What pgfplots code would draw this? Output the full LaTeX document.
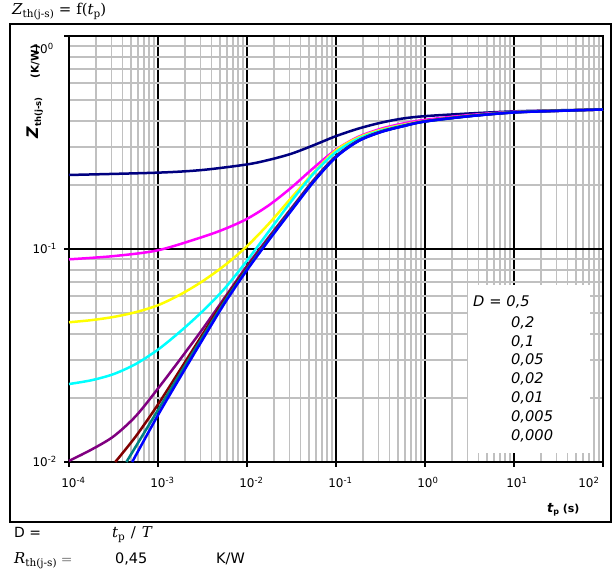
\documentclass[border=0pt]{standalone}
\usepackage[no-math]{fontspec}
\setmainfont{DejaVu Sans}
\newfontfamily\serifx{DejaVu Serif}
\usepackage{pgfplots}
\pgfplotsset{compat=1.18}

\definecolor{dNavy}{RGB}{0,0,128}
\definecolor{dMagenta}{RGB}{255,0,255}
\definecolor{dYellow}{RGB}{255,255,0}
\definecolor{dCyan}{RGB}{0,255,255}
\definecolor{dPurple}{RGB}{128,0,128}
\definecolor{dMaroon}{RGB}{128,0,0}
\definecolor{dTeal}{RGB}{0,128,128}
\definecolor{dBlue}{RGB}{0,0,255}
\definecolor{gridgray}{RGB}{192,192,192}

% "10" with a small raised exponent that takes no width
\newcommand{\tlab}[1]{10\rlap{\raisebox{4bp}{\fontsize{8.5}{9}\selectfont #1}}}
% lowered subscript in the serif face
\newcommand{\ssub}[1]{\raisebox{-3bp}{\fontsize{10.5}{12}\selectfont #1}}

\begin{document}
\begin{tikzpicture}
\begin{axis}[
    scale only axis,
    width=534bp, height=426bp,
    xmode=log, ymode=log,
    xmin=1e-4, xmax=1e2,
    ymin=1e-2, ymax=1,
    clip=false,
    axis line style={black, line width=2.2bp},
    grid=both,
    major grid style={black, line width=2bp},
    minor grid style={gridgray, line width=1.8bp},
    tick align=outside,
    tick pos=left,
    major tick length=5bp,
    minor tick length=0pt,
    tick style={black, line width=2bp},
    ticklabel style={font=\fontsize{12}{14}\selectfont, inner sep=0pt},
    xticklabel style={anchor=north, yshift=-10bp},
    yticklabel style={anchor=east, xshift=-16bp},
    xticklabel={\pgfmathtruncatemacro\ex{round(\tick/ln(10))}%
      \ifnum\ex=2 \rlap{\hspace*{-17bp}\tlab{\ex}}\hphantom{10}\else\tlab{\ex}\fi},
    yticklabel={\pgfmathtruncatemacro\ex{round(\tick/ln(10))}%
      \ifnum\ex=0 \raisebox{-17.4bp}[0pt][0pt]{\tlab{\ex}}\else\raisebox{-4.4bp}[0pt][0pt]{\tlab{\ex}}\fi},
    title={\serifx\fontsize{15}{17}\selectfont\itshape Z\upshape\ssub{th(j-s)}\hspace{5bp}=\hspace{5bp}f(\itshape t\upshape\ssub{p})},
    title style={at={(axis description cs:-0.1067,1.0376)}, anchor=base west, inner sep=0pt},
    xlabel={\bfseries\fontsize{13}{15}\selectfont\itshape t\upshape\raisebox{-2.5bp}{\fontsize{8}{9}\selectfont p}\fontsize{11}{13}\selectfont\ (s)},
    xlabel style={at={(axis description cs:0.8951,-0.1174)}, anchor=base west, inner sep=0pt},
    ylabel={\bfseries\fontsize{16}{18}\selectfont\itshape Z\upshape\raisebox{-2.5bp}{\fontsize{8.5}{9}\selectfont th(j-s)}\hspace{19bp}\fontsize{10.5}{12}\selectfont(K/W)},
    ylabel style={at={(axis description cs:-0.0637,0.9789)}, anchor=east, inner sep=0pt},
    every axis plot/.append style={line width=2.5bp, smooth, no markers},
]
% D = 0.5
\addplot[dNavy] coordinates {
  (1e-4,0.2226) (1e-3,0.2283) (3.162e-3,0.2350) (1e-2,0.2495) (1.778e-2,0.2623)
  (3.162e-2,0.2802) (5.623e-2,0.3072) (0.1,0.3388) (0.1778,0.3673) (0.3162,0.3913)
  (0.5623,0.4098) (1,0.4205) (3.162,0.4328) (10,0.4428) (31.62,0.4479) (100,0.4520)
};
% D = 0.2
\addplot[dMagenta] coordinates {
  (1e-4,0.08944) (3.162e-4,0.09260) (1e-3,0.09863) (3.162e-3,0.1139) (5.623e-3,0.1242)
  (1e-2,0.1385) (1.778e-2,0.1609) (3.162e-2,0.1945) (5.623e-2,0.2407) (0.1,0.2927)
  (0.1778,0.3361) (0.3162,0.3664) (0.5623,0.3882) (1,0.4041) (3.162,0.4256)
  (10,0.4406) (31.62,0.4457) (100,0.4519)
};
% D = 0.1
\addplot[dYellow] coordinates {
  (1e-4,0.04529) (1.778e-4,0.04634) (3.162e-4,0.04797) (5.623e-4,0.05052) (1e-3,0.05445)
  (1.778e-3,0.06109) (3.162e-3,0.07055) (5.623e-3,0.08385) (1e-2,0.1031) (1.778e-2,0.1321)
  (3.162e-2,0.1742) (5.623e-2,0.2283) (0.1,0.2907) (0.1778,0.3334) (0.3162,0.3622)
  (0.5623,0.3828) (1,0.3990) (3.162,0.4220) (10,0.4390) (31.62,0.4461) (100,0.4519)
};
% D = 0.05
\addplot[dCyan] coordinates {
  (1e-4,0.02323) (1.778e-4,0.02419) (3.162e-4,0.02585) (5.623e-4,0.02884) (1e-3,0.03370)
  (1.778e-3,0.04098) (3.162e-3,0.05099) (5.623e-3,0.06531) (1e-2,0.08810) (1.778e-2,0.1216)
  (3.162e-2,0.1679) (5.623e-2,0.2265) (0.1,0.2851) (0.1778,0.3293) (0.3162,0.3589)
  (0.5623,0.3802) (1,0.3972) (3.162,0.4210) (10,0.4385) (31.62,0.4458) (100,0.4519)
};
% D = 0.02
\addplot[dPurple] coordinates {
  (1e-4,0.01012) (1.778e-4,0.01142) (3.162e-4,0.01318) (5.623e-4,0.01641) (1e-3,0.02213)
  (1.778e-3,0.03038) (3.162e-3,0.04203) (5.623e-3,0.05916) (1e-2,0.08337) (1.778e-2,0.1144)
  (3.162e-2,0.1556) (5.623e-2,0.2109) (0.1,0.2729) (0.1778,0.3228) (0.3162,0.3552)
  (0.5623,0.3780) (1,0.3976) (3.162,0.4209) (10,0.4380) (31.62,0.4457) (100,0.4519)
};
% D = 0.01
\addplot[dMaroon] coordinates {
  (3.311e-4,0.0100) (5.623e-4,0.01318) (1e-3,0.01862) (1.778e-3,0.02713) (3.162e-3,0.03968)
  (5.623e-3,0.05794) (1e-2,0.08166) (1.778e-2,0.1126) (3.162e-2,0.1538) (5.623e-2,0.2089)
  (0.1,0.2716) (0.1778,0.3221) (0.3162,0.3548) (0.5623,0.3776) (1,0.3976)
  (3.162,0.4209) (10,0.4380) (31.62,0.4457) (100,0.4519)
};
% D = 0.005
\addplot[dTeal] coordinates {
  (4.416e-4,0.0100) (1e-3,0.01754) (1.778e-3,0.02603) (3.162e-3,0.03851) (5.623e-3,0.05675)
  (1e-2,0.08054) (1.778e-2,0.1115) (3.162e-2,0.1528) (5.623e-2,0.2080) (0.1,0.2707)
  (0.1778,0.3214) (0.3162,0.3540) (0.5623,0.3771) (1,0.3972) (3.162,0.4207)
  (10,0.4380) (31.62,0.4457) (100,0.4519)
};
% D = 0 (single pulse)
\addplot[dBlue] coordinates {
  (5.13e-4,0.0100) (1e-3,0.01660) (1.778e-3,0.02503) (3.162e-3,0.03746) (5.623e-3,0.05572)
  (1e-2,0.07962) (1.778e-2,0.1105) (3.162e-2,0.1517) (5.623e-2,0.2070) (0.1,0.2698)
  (0.1778,0.3206) (0.3162,0.3535) (0.5623,0.3767) (1,0.3968) (3.162,0.4201)
  (10,0.4375) (31.62,0.4451) (100,0.4519)
};

% legend box (text only)
\node[fill=white, inner xsep=5bp, inner ysep=0pt, text width=112bp, align=left,
      anchor=north west, font=\fontsize{14.7}{19}\selectfont\itshape]
  at (axis description cs:0.7472,0.4155)
  {\rule{0pt}{21bp}D = 0,5\\[2bp]
   \hspace*{38bp}0,2\\
   \hspace*{38bp}0,1\\
   \hspace*{38bp}0,05\\
   \hspace*{38bp}0,02\\
   \hspace*{38bp}0,01\\
   \hspace*{38bp}0,005\\
   \hspace*{38bp}0,000\rule[-12bp]{0pt}{12bp}};

% chart frame
\draw[black, line width=2bp] (axis description cs:-0.1105,-0.1408) rectangle (axis description cs:1.0150,1.0282);

% notes below the chart
\node[anchor=base west, inner sep=0pt, font=\fontsize{14}{16}\selectfont]
  at (axis description cs:-0.1030,-0.1784) {D =};
\node[anchor=base west, inner sep=0pt, font=\serifx\fontsize{15}{17}\selectfont]
  at (axis description cs:0.0805,-0.1784) {\itshape t\upshape\ssub{p}\hspace{6bp}/\hspace{6bp}\itshape T};
\node[anchor=base west, inner sep=0pt, font=\serifx\fontsize{15}{17}\selectfont]
  at (axis description cs:-0.1030,-0.2371) {\itshape R\upshape\ssub{th(j-s)} {\sffamily\fontsize{14}{16}\selectfont=}};
\node[anchor=base west, inner sep=0pt, font=\fontsize{14.5}{16}\selectfont]
  at (axis description cs:0.0861,-0.2371) {0,45};
\node[anchor=base west, inner sep=0pt, font=\fontsize{14.5}{16}\selectfont]
  at (axis description cs:0.2753,-0.2371) {K/W};

% page size
\path (axis description cs:-0.1292,-0.2629) rectangle (axis description cs:1.0225,1.0845);
\end{axis}
\end{tikzpicture}
\end{document}
